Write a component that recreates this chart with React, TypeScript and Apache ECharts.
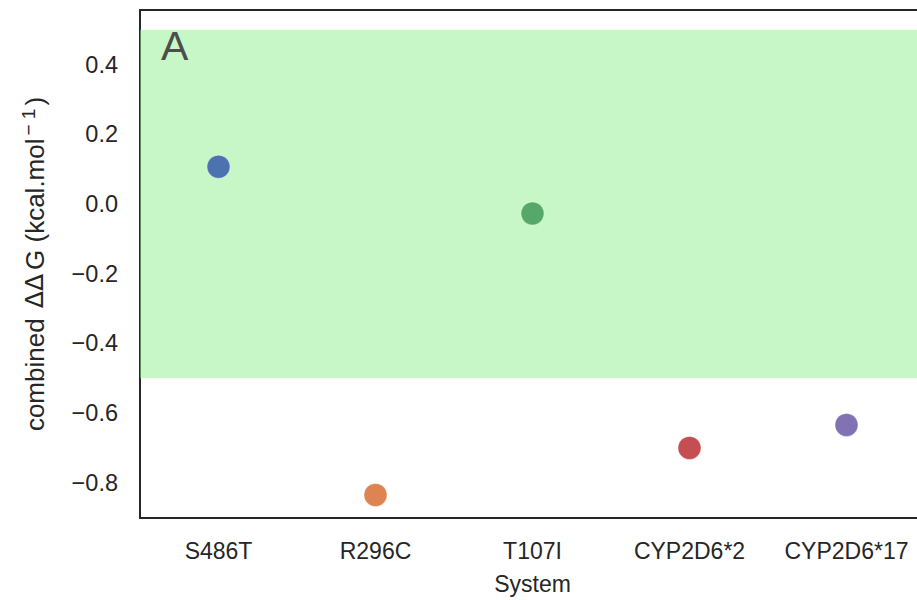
import React, { useEffect, useRef } from "react";
import * as echarts from "echarts";

const categories = ["S486T", "R296C", "T107I", "CYP2D6*2", "CYP2D6*17"];
const values = [0.107, -0.835, -0.027, -0.70, -0.634];
const pointColors = ["#4C72B0", "#DD8452", "#55A868", "#C44E52", "#8172B3"];
const yTicks = [-0.8, -0.6, -0.4, -0.2, 0.0, 0.2, 0.4];
const band = [0.5, -0.5];

export default function App() {
  const ref = useRef<HTMLDivElement>(null);
  useEffect(() => {
    document.body.style.margin = "0";
    document.body.style.overflow = "hidden";
    document.documentElement.style.overflow = "hidden";
    const chart = echarts.init(ref.current!, undefined, { renderer: "svg" });
    const font = "Liberation Sans, Arial, sans-serif";
    const textColor = "#262626";
    chart.setOption({
      animation: false,
      grid: {
        left: 140,
        top: 10,
        bottom: 81,
        right: 0,
        show: true,
        borderColor: "#262626",
        borderWidth: 2,
        backgroundColor: "transparent",
      },
      xAxis: {
        type: "category",
        data: categories,
        boundaryGap: true,
        name: "System",
        nameLocation: "middle",
        nameGap: 54,
        nameTextStyle: { fontFamily: font, fontSize: 23, color: textColor },
        axisLine: { show: false },
        axisTick: { show: false },
        axisLabel: { fontFamily: font, fontSize: 23, color: textColor, margin: 21, interval: 0, hideOverlap: false },
        splitLine: { show: false },
      },
      yAxis: {
        type: "value",
        min: -0.901,
        max: 0.557,
        name: "{t|combined }{d|ΔΔ}{t|G (kcal.mol}{sup|− 1}{t|)}",
        nameLocation: "middle",
        nameGap: 90,
        nameTextStyle: {
          fontFamily: font,
          fontSize: 26,
          color: textColor,
          rich: {
            t: { fontFamily: font, fontSize: 26, color: textColor },
            d: { fontFamily: "DejaVu Sans", fontSize: 25, color: textColor, padding: [0, 4, 0, 3] },
            sup: { fontFamily: font, fontSize: 19, color: textColor, verticalAlign: "top", padding: [0, 3, 12, 3] },
          },
        },
        axisLine: { show: false },
        axisTick: { show: false },
        splitLine: { show: false },
        axisLabel: {
          fontFamily: font,
          fontSize: 23.5,
          color: textColor,
          margin: 22,
          customValues: yTicks,
          formatter: (v: number) => {
            const s = v.toFixed(1);
            return s.startsWith("-") ? "−" + s.slice(1) : s;
          },
        },
      },
      graphic: [
        {
          type: "text",
          left: 161,
          top: 25,
          z: 10,
          style: { text: "A", fontFamily: font, fontSize: 41, fill: "#4d4d4d" },
        },
      ],
      series: [
        {
          type: "scatter",
          symbolSize: 23,
          data: values.map((v, i) => ({
            value: v,
            itemStyle: { color: pointColors[i], opacity: 1, borderColor: "rgba(255,255,255,0.6)", borderWidth: 0.6 },
          })),
          markArea: {
            silent: true,
            itemStyle: { color: "rgba(144,238,144,0.5)" },
            data: [[{ yAxis: band[0] }, { yAxis: band[1] }]],
          },
          z: 5,
        },
      ],
    });
    return () => chart.dispose();
  }, []);
  return <div ref={ref} style={{ width: 925, height: 600 }} />;
}
